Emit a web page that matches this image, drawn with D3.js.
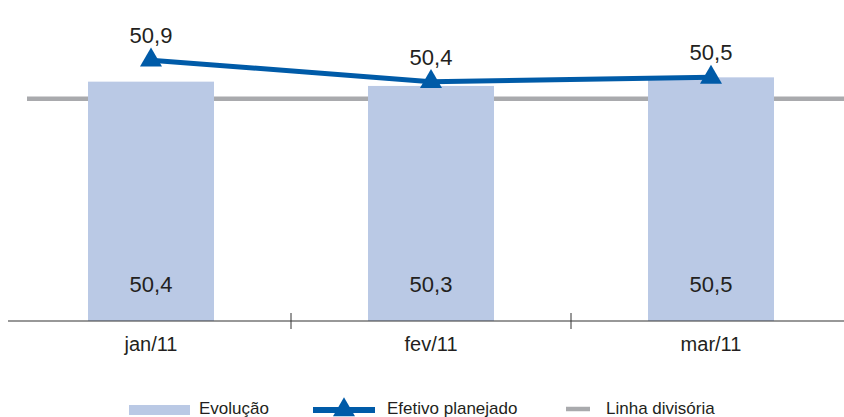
<!DOCTYPE html>
<html>
<head>
<meta charset="utf-8">
<script src="https://cdn.jsdelivr.net/npm/d3@7"></script>
<style>
  html, body { margin: 0; padding: 0; background: #fff; }
  svg { display: block; font-family: "Liberation Sans", Arial, Helvetica, sans-serif; }
</style>
</head>
<body>
<svg id="chart" width="844" height="417"></svg>
<script>
// ---- data ----
const categories = ["jan/11", "fev/11", "mar/11"];
const evolucao = [50.4, 50.3, 50.5];
const efetivoPlanejado = [50.9, 50.4, 50.5];
const linhaDivisoria = 50.0;
const legendLabels = ["Evolução", "Efetivo planejado", "Linha divisória"];
const fmt = v => d3.format(".1f")(v).replace(".", ",");

// ---- styles ----
const barColor = "#bac9e5";
const lineColor = "#005ba8";
const grayColor = "#a9aaad";
const textColor = "#231f20";

const W = 844, H = 417;
const svg = d3.select("#chart");

const x = d3.scaleBand().domain(categories).range([11, 851]).paddingInner(0).paddingOuter(0);
const y = d3.scaleLinear().domain([44.83, 52.3]).range([321, 0]);
const barW = 126;
const cx = c => x(c) + x.bandwidth() / 2;

// divider line (behind bars)
svg.append("line")
  .attr("x1", 27).attr("x2", W)
  .attr("y1", y(linhaDivisoria)).attr("y2", y(linhaDivisoria))
  .attr("stroke", grayColor).attr("stroke-width", 4.5);

// bars
svg.append("g").selectAll("rect").data(categories).join("rect")
  .attr("x", c => cx(c) - barW / 2)
  .attr("width", barW)
  .attr("y", (c, i) => y(evolucao[i]))
  .attr("height", (c, i) => y.range()[0] - y(evolucao[i]))
  .attr("fill", barColor);

// bar labels
svg.append("g").selectAll("text").data(categories).join("text")
  .attr("x", c => cx(c))
  .attr("y", y.range()[0] - 29)
  .attr("text-anchor", "middle")
  .attr("font-size", 22)
  .attr("fill", textColor)
  .text((c, i) => fmt(evolucao[i]));

// axis
const axisY = y.range()[0];
const axisG = svg.append("g");
axisG.append("line").attr("x1", 8).attr("x2", W).attr("y1", axisY).attr("y2", axisY)
  .attr("stroke", "#333").attr("stroke-width", 1.2);
axisG.selectAll("line.tick").data(categories.slice(1)).join("line")
  .attr("class", "tick")
  .attr("x1", c => x(c)).attr("x2", c => x(c))
  .attr("y1", axisY - 8).attr("y2", axisY + 8)
  .attr("stroke", "#333").attr("stroke-width", 1);
axisG.selectAll("text").data(categories).join("text")
  .attr("x", c => cx(c))
  .attr("y", axisY + 30)
  .attr("text-anchor", "middle")
  .attr("font-size", 20)
  .attr("fill", textColor)
  .text(c => c);

// line
const line = d3.line().x((d, i) => cx(categories[i])).y(d => y(d));
svg.append("path").datum(efetivoPlanejado)
  .attr("d", line)
  .attr("fill", "none")
  .attr("stroke", lineColor)
  .attr("stroke-width", 5);

const tri = d3.symbol().type(d3.symbolTriangle).size(210);
svg.append("g").selectAll("path").data(efetivoPlanejado).join("path")
  .attr("d", tri)
  .attr("transform", (d, i) => `translate(${cx(categories[i])},${y(d)})`)
  .attr("fill", lineColor);

svg.append("g").selectAll("text").data(efetivoPlanejado).join("text")
  .attr("x", (d, i) => cx(categories[i]))
  .attr("y", d => y(d) - 17)
  .attr("text-anchor", "middle")
  .attr("font-size", 22)
  .attr("fill", textColor)
  .text(d => fmt(d));

// legend
const lg = svg.append("g");
const ly = 410;
lg.append("rect").attr("x", 129).attr("y", ly - 5).attr("width", 61).attr("height", 10).attr("fill", barColor);
lg.append("text").attr("x", 199).attr("y", ly + 4).attr("font-size", 17).attr("fill", textColor).text(legendLabels[0]);
lg.append("line").attr("x1", 313).attr("x2", 375).attr("y1", ly).attr("y2", ly)
  .attr("stroke", lineColor).attr("stroke-width", 6);
lg.append("path").attr("d", tri).attr("transform", `translate(344,${ly})`).attr("fill", lineColor);
lg.append("text").attr("x", 387).attr("y", ly + 4).attr("font-size", 17).attr("fill", textColor).text(legendLabels[1]);
lg.append("line").attr("x1", 566).attr("x2", 590).attr("y1", ly - 1).attr("y2", ly - 1)
  .attr("stroke", grayColor).attr("stroke-width", 4.5);
lg.append("text").attr("x", 606).attr("y", ly + 4).attr("font-size", 17).attr("fill", textColor).text(legendLabels[2]);
</script>
</body>
</html>
